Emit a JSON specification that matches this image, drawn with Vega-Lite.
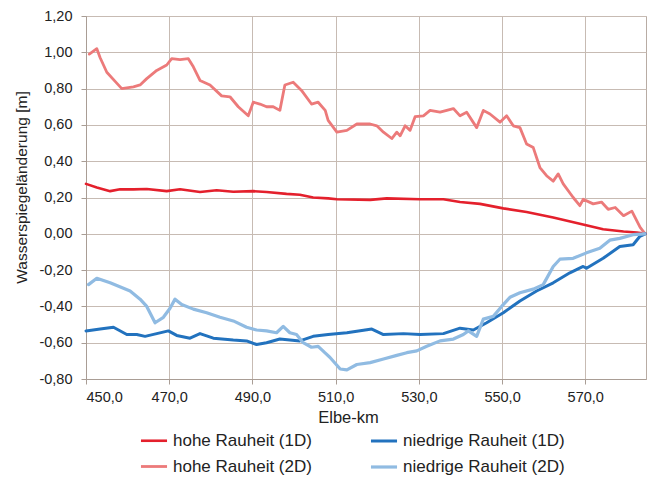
{
  "$schema": "https://vega.github.io/schema/vega-lite/v6.json",
  "width": 560,
  "height": 363,
  "autosize": "none",
  "padding": {"left": 86, "top": 16, "right": 4, "bottom": 107},
  "background": "white",
  "config": {
    "font": "Liberation Sans",
    "view": {"stroke": "#b8aca4", "strokeWidth": 1},
    "axis": {
      "labelFont": "Liberation Sans",
      "titleFont": "Liberation Sans",
      "labelColor": "#222222",
      "titleColor": "#222222",
      "titleFontWeight": "normal",
      "gridColor": "#c7bbb3",
      "gridOpacity": 1,
      "domainColor": "#a99d95",
      "tickColor": "#a99d95",
      "tickSize": 5
    },
    "legend": {"labelFont": "Liberation Sans"}
  },
  "data": {
    "values": [
      {"km": 450.0, "v": 0.275, "s": "hohe Rauheit (1D)"},
      {"km": 452.6, "v": 0.255, "s": "hohe Rauheit (1D)"},
      {"km": 455.8, "v": 0.235, "s": "hohe Rauheit (1D)"},
      {"km": 458.2, "v": 0.245, "s": "hohe Rauheit (1D)"},
      {"km": 461.4, "v": 0.245, "s": "hohe Rauheit (1D)"},
      {"km": 464.6, "v": 0.247, "s": "hohe Rauheit (1D)"},
      {"km": 469.4, "v": 0.235, "s": "hohe Rauheit (1D)"},
      {"km": 472.6, "v": 0.245, "s": "hohe Rauheit (1D)"},
      {"km": 477.4, "v": 0.23, "s": "hohe Rauheit (1D)"},
      {"km": 481.4, "v": 0.24, "s": "hohe Rauheit (1D)"},
      {"km": 485.4, "v": 0.232, "s": "hohe Rauheit (1D)"},
      {"km": 490.2, "v": 0.235, "s": "hohe Rauheit (1D)"},
      {"km": 493.4, "v": 0.23, "s": "hohe Rauheit (1D)"},
      {"km": 498.2, "v": 0.22, "s": "hohe Rauheit (1D)"},
      {"km": 501.4, "v": 0.215, "s": "hohe Rauheit (1D)"},
      {"km": 504.6, "v": 0.2, "s": "hohe Rauheit (1D)"},
      {"km": 508.2, "v": 0.195, "s": "hohe Rauheit (1D)"},
      {"km": 510.3, "v": 0.19, "s": "hohe Rauheit (1D)"},
      {"km": 518.3, "v": 0.187, "s": "hohe Rauheit (1D)"},
      {"km": 522.3, "v": 0.195, "s": "hohe Rauheit (1D)"},
      {"km": 530.3, "v": 0.19, "s": "hohe Rauheit (1D)"},
      {"km": 535.9, "v": 0.19, "s": "hohe Rauheit (1D)"},
      {"km": 539.9, "v": 0.175, "s": "hohe Rauheit (1D)"},
      {"km": 544.7, "v": 0.165, "s": "hohe Rauheit (1D)"},
      {"km": 550.3, "v": 0.14, "s": "hohe Rauheit (1D)"},
      {"km": 555.9, "v": 0.12, "s": "hohe Rauheit (1D)"},
      {"km": 562.3, "v": 0.09, "s": "hohe Rauheit (1D)"},
      {"km": 568.7, "v": 0.055, "s": "hohe Rauheit (1D)"},
      {"km": 574.3, "v": 0.025, "s": "hohe Rauheit (1D)"},
      {"km": 579.2, "v": 0.013, "s": "hohe Rauheit (1D)"},
      {"km": 582.4, "v": 0.007, "s": "hohe Rauheit (1D)"},
      {"km": 584.5, "v": 0.0, "s": "hohe Rauheit (1D)"},

      {"km": 450.8, "v": 0.99, "s": "hohe Rauheit (2D)"},
      {"km": 452.6, "v": 1.02, "s": "hohe Rauheit (2D)"},
      {"km": 453.4, "v": 0.97, "s": "hohe Rauheit (2D)"},
      {"km": 455.0, "v": 0.89, "s": "hohe Rauheit (2D)"},
      {"km": 457.0, "v": 0.84, "s": "hohe Rauheit (2D)"},
      {"km": 458.6, "v": 0.8, "s": "hohe Rauheit (2D)"},
      {"km": 461.4, "v": 0.81, "s": "hohe Rauheit (2D)"},
      {"km": 463.0, "v": 0.82, "s": "hohe Rauheit (2D)"},
      {"km": 464.6, "v": 0.855, "s": "hohe Rauheit (2D)"},
      {"km": 467.0, "v": 0.9, "s": "hohe Rauheit (2D)"},
      {"km": 469.4, "v": 0.93, "s": "hohe Rauheit (2D)"},
      {"km": 470.6, "v": 0.965, "s": "hohe Rauheit (2D)"},
      {"km": 472.6, "v": 0.96, "s": "hohe Rauheit (2D)"},
      {"km": 474.6, "v": 0.965, "s": "hohe Rauheit (2D)"},
      {"km": 475.8, "v": 0.92, "s": "hohe Rauheit (2D)"},
      {"km": 477.4, "v": 0.845, "s": "hohe Rauheit (2D)"},
      {"km": 479.8, "v": 0.82, "s": "hohe Rauheit (2D)"},
      {"km": 482.6, "v": 0.76, "s": "hohe Rauheit (2D)"},
      {"km": 484.6, "v": 0.755, "s": "hohe Rauheit (2D)"},
      {"km": 486.6, "v": 0.7, "s": "hohe Rauheit (2D)"},
      {"km": 489.0, "v": 0.65, "s": "hohe Rauheit (2D)"},
      {"km": 490.2, "v": 0.725, "s": "hohe Rauheit (2D)"},
      {"km": 491.8, "v": 0.715, "s": "hohe Rauheit (2D)"},
      {"km": 493.4, "v": 0.7, "s": "hohe Rauheit (2D)"},
      {"km": 495.0, "v": 0.7, "s": "hohe Rauheit (2D)"},
      {"km": 496.6, "v": 0.68, "s": "hohe Rauheit (2D)"},
      {"km": 497.8, "v": 0.82, "s": "hohe Rauheit (2D)"},
      {"km": 499.8, "v": 0.835, "s": "hohe Rauheit (2D)"},
      {"km": 501.8, "v": 0.79, "s": "hohe Rauheit (2D)"},
      {"km": 504.2, "v": 0.715, "s": "hohe Rauheit (2D)"},
      {"km": 505.8, "v": 0.725, "s": "hohe Rauheit (2D)"},
      {"km": 507.5, "v": 0.68, "s": "hohe Rauheit (2D)"},
      {"km": 508.2, "v": 0.625, "s": "hohe Rauheit (2D)"},
      {"km": 510.3, "v": 0.56, "s": "hohe Rauheit (2D)"},
      {"km": 512.7, "v": 0.57, "s": "hohe Rauheit (2D)"},
      {"km": 515.1, "v": 0.605, "s": "hohe Rauheit (2D)"},
      {"km": 518.3, "v": 0.605, "s": "hohe Rauheit (2D)"},
      {"km": 519.9, "v": 0.595, "s": "hohe Rauheit (2D)"},
      {"km": 521.5, "v": 0.56, "s": "hohe Rauheit (2D)"},
      {"km": 523.5, "v": 0.525, "s": "hohe Rauheit (2D)"},
      {"km": 524.7, "v": 0.56, "s": "hohe Rauheit (2D)"},
      {"km": 525.5, "v": 0.54, "s": "hohe Rauheit (2D)"},
      {"km": 526.7, "v": 0.595, "s": "hohe Rauheit (2D)"},
      {"km": 527.9, "v": 0.57, "s": "hohe Rauheit (2D)"},
      {"km": 529.1, "v": 0.645, "s": "hohe Rauheit (2D)"},
      {"km": 531.1, "v": 0.65, "s": "hohe Rauheit (2D)"},
      {"km": 532.7, "v": 0.68, "s": "hohe Rauheit (2D)"},
      {"km": 535.1, "v": 0.67, "s": "hohe Rauheit (2D)"},
      {"km": 538.3, "v": 0.69, "s": "hohe Rauheit (2D)"},
      {"km": 539.9, "v": 0.65, "s": "hohe Rauheit (2D)"},
      {"km": 541.5, "v": 0.67, "s": "hohe Rauheit (2D)"},
      {"km": 543.9, "v": 0.585, "s": "hohe Rauheit (2D)"},
      {"km": 545.5, "v": 0.68, "s": "hohe Rauheit (2D)"},
      {"km": 547.1, "v": 0.66, "s": "hohe Rauheit (2D)"},
      {"km": 549.5, "v": 0.615, "s": "hohe Rauheit (2D)"},
      {"km": 551.1, "v": 0.65, "s": "hohe Rauheit (2D)"},
      {"km": 552.7, "v": 0.595, "s": "hohe Rauheit (2D)"},
      {"km": 554.3, "v": 0.585, "s": "hohe Rauheit (2D)"},
      {"km": 555.9, "v": 0.495, "s": "hohe Rauheit (2D)"},
      {"km": 557.5, "v": 0.475, "s": "hohe Rauheit (2D)"},
      {"km": 559.1, "v": 0.365, "s": "hohe Rauheit (2D)"},
      {"km": 560.7, "v": 0.32, "s": "hohe Rauheit (2D)"},
      {"km": 562.3, "v": 0.29, "s": "hohe Rauheit (2D)"},
      {"km": 563.5, "v": 0.33, "s": "hohe Rauheit (2D)"},
      {"km": 564.7, "v": 0.275, "s": "hohe Rauheit (2D)"},
      {"km": 567.1, "v": 0.2, "s": "hohe Rauheit (2D)"},
      {"km": 568.7, "v": 0.155, "s": "hohe Rauheit (2D)"},
      {"km": 569.5, "v": 0.19, "s": "hohe Rauheit (2D)"},
      {"km": 571.9, "v": 0.165, "s": "hohe Rauheit (2D)"},
      {"km": 573.9, "v": 0.175, "s": "hohe Rauheit (2D)"},
      {"km": 575.5, "v": 0.135, "s": "hohe Rauheit (2D)"},
      {"km": 577.2, "v": 0.145, "s": "hohe Rauheit (2D)"},
      {"km": 579.2, "v": 0.1, "s": "hohe Rauheit (2D)"},
      {"km": 581.2, "v": 0.125, "s": "hohe Rauheit (2D)"},
      {"km": 583.2, "v": 0.035, "s": "hohe Rauheit (2D)"},
      {"km": 584.4, "v": 0.0, "s": "hohe Rauheit (2D)"},

      {"km": 450.0, "v": -0.535, "s": "niedrige Rauheit (1D)"},
      {"km": 453.4, "v": -0.525, "s": "niedrige Rauheit (1D)"},
      {"km": 456.6, "v": -0.515, "s": "niedrige Rauheit (1D)"},
      {"km": 459.8, "v": -0.555, "s": "niedrige Rauheit (1D)"},
      {"km": 462.2, "v": -0.555, "s": "niedrige Rauheit (1D)"},
      {"km": 464.2, "v": -0.565, "s": "niedrige Rauheit (1D)"},
      {"km": 467.0, "v": -0.55, "s": "niedrige Rauheit (1D)"},
      {"km": 469.8, "v": -0.535, "s": "niedrige Rauheit (1D)"},
      {"km": 471.8, "v": -0.56, "s": "niedrige Rauheit (1D)"},
      {"km": 475.0, "v": -0.575, "s": "niedrige Rauheit (1D)"},
      {"km": 477.4, "v": -0.55, "s": "niedrige Rauheit (1D)"},
      {"km": 480.6, "v": -0.575, "s": "niedrige Rauheit (1D)"},
      {"km": 485.4, "v": -0.585, "s": "niedrige Rauheit (1D)"},
      {"km": 488.6, "v": -0.59, "s": "niedrige Rauheit (1D)"},
      {"km": 491.0, "v": -0.61, "s": "niedrige Rauheit (1D)"},
      {"km": 493.4, "v": -0.6, "s": "niedrige Rauheit (1D)"},
      {"km": 496.6, "v": -0.58, "s": "niedrige Rauheit (1D)"},
      {"km": 499.0, "v": -0.585, "s": "niedrige Rauheit (1D)"},
      {"km": 501.4, "v": -0.59, "s": "niedrige Rauheit (1D)"},
      {"km": 504.6, "v": -0.565, "s": "niedrige Rauheit (1D)"},
      {"km": 508.2, "v": -0.555, "s": "niedrige Rauheit (1D)"},
      {"km": 512.7, "v": -0.545, "s": "niedrige Rauheit (1D)"},
      {"km": 518.7, "v": -0.525, "s": "niedrige Rauheit (1D)"},
      {"km": 521.5, "v": -0.555, "s": "niedrige Rauheit (1D)"},
      {"km": 526.3, "v": -0.55, "s": "niedrige Rauheit (1D)"},
      {"km": 530.3, "v": -0.555, "s": "niedrige Rauheit (1D)"},
      {"km": 535.9, "v": -0.55, "s": "niedrige Rauheit (1D)"},
      {"km": 539.9, "v": -0.52, "s": "niedrige Rauheit (1D)"},
      {"km": 543.1, "v": -0.53, "s": "niedrige Rauheit (1D)"},
      {"km": 546.3, "v": -0.49, "s": "niedrige Rauheit (1D)"},
      {"km": 550.3, "v": -0.435, "s": "niedrige Rauheit (1D)"},
      {"km": 554.3, "v": -0.37, "s": "niedrige Rauheit (1D)"},
      {"km": 558.3, "v": -0.315, "s": "niedrige Rauheit (1D)"},
      {"km": 562.3, "v": -0.27, "s": "niedrige Rauheit (1D)"},
      {"km": 566.3, "v": -0.215, "s": "niedrige Rauheit (1D)"},
      {"km": 569.5, "v": -0.18, "s": "niedrige Rauheit (1D)"},
      {"km": 570.3, "v": -0.19, "s": "niedrige Rauheit (1D)"},
      {"km": 574.3, "v": -0.135, "s": "niedrige Rauheit (1D)"},
      {"km": 578.3, "v": -0.07, "s": "niedrige Rauheit (1D)"},
      {"km": 581.5, "v": -0.06, "s": "niedrige Rauheit (1D)"},
      {"km": 583.1, "v": -0.015, "s": "niedrige Rauheit (1D)"},
      {"km": 584.4, "v": 0.0, "s": "niedrige Rauheit (1D)"},

      {"km": 450.6, "v": -0.28, "s": "niedrige Rauheit (2D)"},
      {"km": 452.6, "v": -0.245, "s": "niedrige Rauheit (2D)"},
      {"km": 455.8, "v": -0.27, "s": "niedrige Rauheit (2D)"},
      {"km": 459.0, "v": -0.3, "s": "niedrige Rauheit (2D)"},
      {"km": 460.6, "v": -0.315, "s": "niedrige Rauheit (2D)"},
      {"km": 463.0, "v": -0.36, "s": "niedrige Rauheit (2D)"},
      {"km": 464.6, "v": -0.4, "s": "niedrige Rauheit (2D)"},
      {"km": 466.6, "v": -0.49, "s": "niedrige Rauheit (2D)"},
      {"km": 468.6, "v": -0.46, "s": "niedrige Rauheit (2D)"},
      {"km": 470.2, "v": -0.41, "s": "niedrige Rauheit (2D)"},
      {"km": 471.4, "v": -0.36, "s": "niedrige Rauheit (2D)"},
      {"km": 473.0, "v": -0.39, "s": "niedrige Rauheit (2D)"},
      {"km": 475.8, "v": -0.415, "s": "niedrige Rauheit (2D)"},
      {"km": 479.0, "v": -0.435, "s": "niedrige Rauheit (2D)"},
      {"km": 482.2, "v": -0.46, "s": "niedrige Rauheit (2D)"},
      {"km": 485.4, "v": -0.48, "s": "niedrige Rauheit (2D)"},
      {"km": 488.6, "v": -0.515, "s": "niedrige Rauheit (2D)"},
      {"km": 491.0, "v": -0.53, "s": "niedrige Rauheit (2D)"},
      {"km": 493.4, "v": -0.535, "s": "niedrige Rauheit (2D)"},
      {"km": 495.8, "v": -0.545, "s": "niedrige Rauheit (2D)"},
      {"km": 497.4, "v": -0.51, "s": "niedrige Rauheit (2D)"},
      {"km": 499.0, "v": -0.545, "s": "niedrige Rauheit (2D)"},
      {"km": 500.6, "v": -0.555, "s": "niedrige Rauheit (2D)"},
      {"km": 502.2, "v": -0.6, "s": "niedrige Rauheit (2D)"},
      {"km": 504.2, "v": -0.625, "s": "niedrige Rauheit (2D)"},
      {"km": 505.8, "v": -0.62, "s": "niedrige Rauheit (2D)"},
      {"km": 507.4, "v": -0.655, "s": "niedrige Rauheit (2D)"},
      {"km": 508.6, "v": -0.68, "s": "niedrige Rauheit (2D)"},
      {"km": 511.1, "v": -0.745, "s": "niedrige Rauheit (2D)"},
      {"km": 512.7, "v": -0.75, "s": "niedrige Rauheit (2D)"},
      {"km": 515.1, "v": -0.72, "s": "niedrige Rauheit (2D)"},
      {"km": 518.3, "v": -0.71, "s": "niedrige Rauheit (2D)"},
      {"km": 521.5, "v": -0.69, "s": "niedrige Rauheit (2D)"},
      {"km": 524.7, "v": -0.67, "s": "niedrige Rauheit (2D)"},
      {"km": 527.1, "v": -0.655, "s": "niedrige Rauheit (2D)"},
      {"km": 529.5, "v": -0.645, "s": "niedrige Rauheit (2D)"},
      {"km": 531.9, "v": -0.62, "s": "niedrige Rauheit (2D)"},
      {"km": 535.1, "v": -0.59, "s": "niedrige Rauheit (2D)"},
      {"km": 538.3, "v": -0.58, "s": "niedrige Rauheit (2D)"},
      {"km": 540.7, "v": -0.555, "s": "niedrige Rauheit (2D)"},
      {"km": 541.9, "v": -0.535, "s": "niedrige Rauheit (2D)"},
      {"km": 543.9, "v": -0.565, "s": "niedrige Rauheit (2D)"},
      {"km": 545.5, "v": -0.47, "s": "niedrige Rauheit (2D)"},
      {"km": 547.9, "v": -0.455, "s": "niedrige Rauheit (2D)"},
      {"km": 549.9, "v": -0.4, "s": "niedrige Rauheit (2D)"},
      {"km": 551.9, "v": -0.35, "s": "niedrige Rauheit (2D)"},
      {"km": 554.3, "v": -0.325, "s": "niedrige Rauheit (2D)"},
      {"km": 557.5, "v": -0.305, "s": "niedrige Rauheit (2D)"},
      {"km": 559.9, "v": -0.28, "s": "niedrige Rauheit (2D)"},
      {"km": 562.3, "v": -0.18, "s": "niedrige Rauheit (2D)"},
      {"km": 563.9, "v": -0.14, "s": "niedrige Rauheit (2D)"},
      {"km": 567.1, "v": -0.135, "s": "niedrige Rauheit (2D)"},
      {"km": 570.3, "v": -0.105, "s": "niedrige Rauheit (2D)"},
      {"km": 573.5, "v": -0.08, "s": "niedrige Rauheit (2D)"},
      {"km": 575.9, "v": -0.035, "s": "niedrige Rauheit (2D)"},
      {"km": 578.3, "v": -0.025, "s": "niedrige Rauheit (2D)"},
      {"km": 581.5, "v": -0.005, "s": "niedrige Rauheit (2D)"},
      {"km": 584.3, "v": 0.0, "s": "niedrige Rauheit (2D)"}
    ]
  },
  "mark": {"type": "line", "strokeJoin": "round", "strokeCap": "round"},
  "encoding": {
    "x": {
      "field": "km",
      "type": "quantitative",
      "scale": {"domain": [450, 584.6], "nice": false, "zero": false},
      "axis": {
        "title": "Elbe-km",
        "values": [450, 470, 490, 510, 530, 550, 570],
        "labelExpr": "replace(format(datum.value, '.1f'), '.', ',')",
        "labelFontSize": 14.5,
        "labelPadding": 6,
        "titleFontSize": 16.5,
        "titleX": 262,
        "titleY": 43,
        "titleBaseline": "alphabetic",
        "titleAlign": "center",
        "titleAnchor": null
      }
    },
    "y": {
      "field": "v",
      "type": "quantitative",
      "scale": {"domain": [-0.8, 1.2], "nice": false},
      "axis": {
        "title": "Wasserspiegeländerung [m]",
        "values": [-0.8, -0.6, -0.4, -0.2, 0, 0.2, 0.4, 0.6, 0.8, 1.0, 1.2],
        "labelExpr": "replace(replace(format(datum.value, '.2f'), '.', ','), '\u2212', '-')",
        "labelFontSize": 14.5,
        "labelPadding": 9,
        "titleFontSize": 15.5,
        "titleX": -60,
        "titleY": 171,
        "titleBaseline": "alphabetic",
        "titleAlign": "center",
        "titleAngle": -90,
        "titleAnchor": null
      }
    },
    "color": {
      "field": "s",
      "type": "nominal",
      "scale": {
        "domain": ["hohe Rauheit (1D)", "hohe Rauheit (2D)", "niedrige Rauheit (1D)", "niedrige Rauheit (2D)"],
        "range": ["#e4202c", "#ec7a7a", "#2272be", "#90bbe2"]
      },
      "legend": {
        "title": null,
        "orient": "none",
        "legendX": 53,
        "legendY": 410,
        "columns": 2,
        "columnPadding": 52,
        "rowPadding": 3,
        "symbolType": "stroke",
        "symbolSize": 680,
        "symbolStrokeWidth": 3,
        "labelFontSize": 17,
        "labelLimit": 400,
        "labelColor": "#222222",
        "labelOffset": 4
      }
    },
    "strokeWidth": {
      "field": "s",
      "type": "nominal",
      "scale": {
        "domain": ["hohe Rauheit (1D)", "hohe Rauheit (2D)", "niedrige Rauheit (1D)", "niedrige Rauheit (2D)"],
        "range": [2.6, 3.2, 2.6, 3.2]
      },
      "legend": null
    },
    "order": {"field": "km", "type": "quantitative"}
  }
}
